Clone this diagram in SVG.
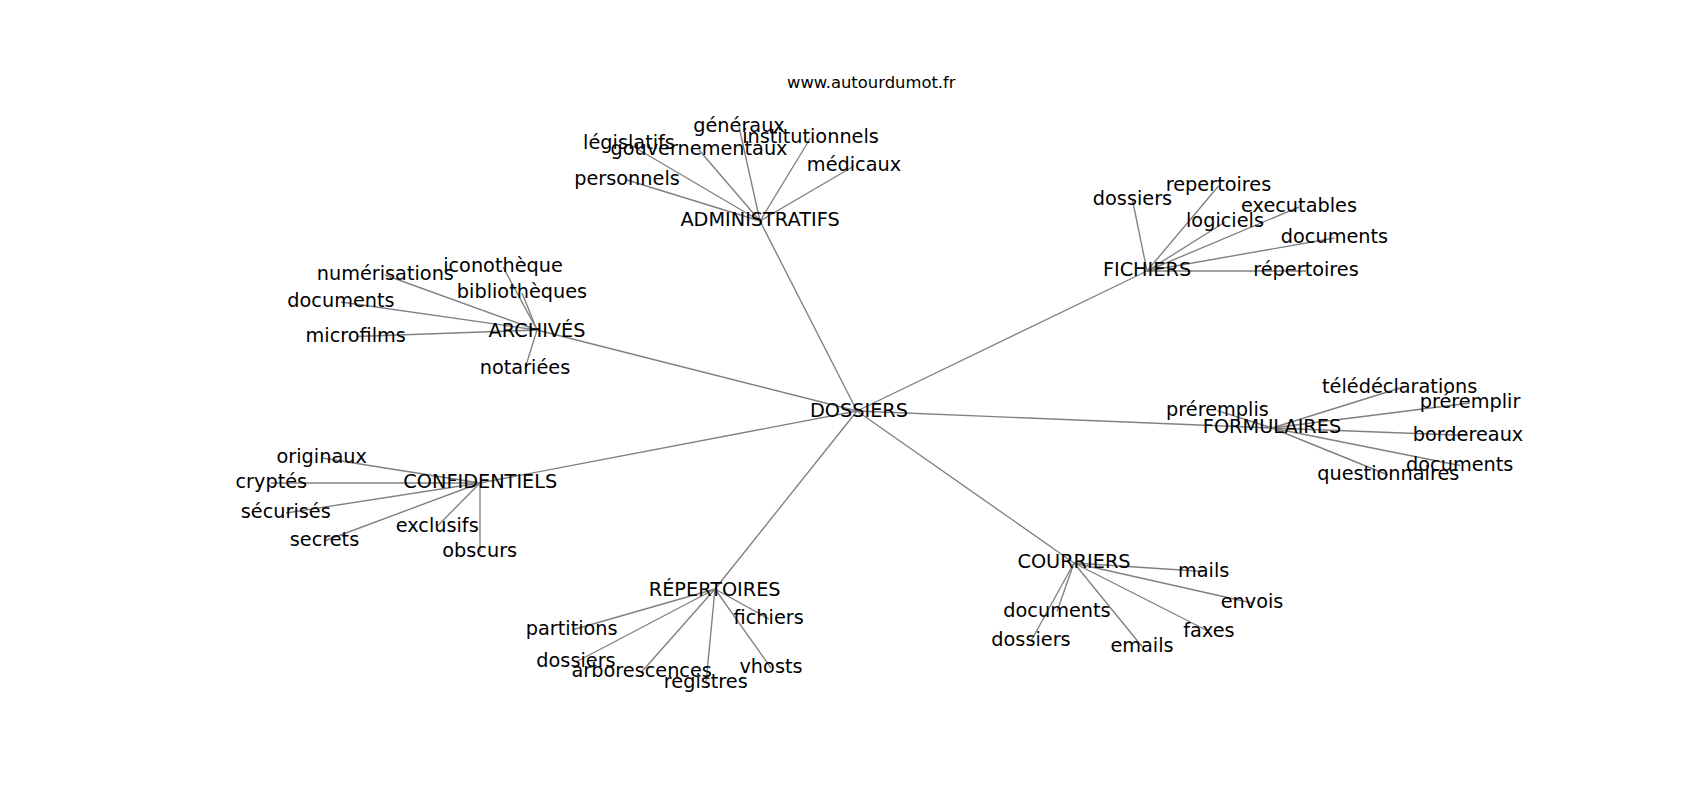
<svg xmlns="http://www.w3.org/2000/svg" width="1700" height="800" viewBox="0 0 1700 800">
<style>
text{font-family:"DejaVu Sans",sans-serif;font-size:19.3px;fill:#000;text-anchor:middle}
.t{font-size:16.4px}
#edges line{stroke:#808080;stroke-width:1.36}
</style>
<rect width="1700" height="800" fill="#fff"/>
<g id="edges">
<line x1="857" y1="411" x2="760" y2="221"/>
<line x1="857" y1="411" x2="1147" y2="271"/>
<line x1="857" y1="411" x2="537" y2="330"/>
<line x1="857" y1="411" x2="1272" y2="428"/>
<line x1="857" y1="411" x2="480" y2="483"/>
<line x1="857" y1="411" x2="715" y2="589"/>
<line x1="857" y1="411" x2="1074" y2="563"/>
<line x1="760" y1="221" x2="739" y2="127"/>
<line x1="760" y1="221" x2="629" y2="144"/>
<line x1="760" y1="221" x2="699" y2="150"/>
<line x1="760" y1="221" x2="810.5" y2="138"/>
<line x1="760" y1="221" x2="854" y2="166"/>
<line x1="760" y1="221" x2="627" y2="180"/>
<line x1="1147" y1="271" x2="1132.5" y2="200"/>
<line x1="1147" y1="271" x2="1218.5" y2="186"/>
<line x1="1147" y1="271" x2="1299" y2="207"/>
<line x1="1147" y1="271" x2="1225" y2="222"/>
<line x1="1147" y1="271" x2="1334.5" y2="238"/>
<line x1="1147" y1="271" x2="1306" y2="271"/>
<line x1="537" y1="330" x2="385" y2="275"/>
<line x1="537" y1="330" x2="503" y2="267"/>
<line x1="537" y1="330" x2="522" y2="293"/>
<line x1="537" y1="330" x2="341" y2="302"/>
<line x1="537" y1="330" x2="356" y2="336.5"/>
<line x1="537" y1="330" x2="525" y2="368.6"/>
<line x1="1272" y1="428" x2="1217.5" y2="410.6"/>
<line x1="1272" y1="428" x2="1400" y2="388"/>
<line x1="1272" y1="428" x2="1470" y2="403"/>
<line x1="1272" y1="428" x2="1468" y2="435.5"/>
<line x1="1272" y1="428" x2="1460" y2="465.5"/>
<line x1="1272" y1="428" x2="1388" y2="475"/>
<line x1="480" y1="483" x2="322" y2="458"/>
<line x1="480" y1="483" x2="271" y2="483"/>
<line x1="480" y1="483" x2="286" y2="513"/>
<line x1="480" y1="483" x2="324.5" y2="541"/>
<line x1="480" y1="483" x2="437" y2="526.5"/>
<line x1="480" y1="483" x2="480" y2="552"/>
<line x1="715" y1="589" x2="572" y2="630"/>
<line x1="715" y1="589" x2="769" y2="619"/>
<line x1="715" y1="589" x2="576" y2="662"/>
<line x1="715" y1="589" x2="642" y2="671.5"/>
<line x1="715" y1="589" x2="706" y2="683"/>
<line x1="715" y1="589" x2="771" y2="668"/>
<line x1="1074" y1="563" x2="1204" y2="571.5"/>
<line x1="1074" y1="563" x2="1252" y2="603"/>
<line x1="1074" y1="563" x2="1209" y2="631.5"/>
<line x1="1074" y1="563" x2="1142" y2="646.5"/>
<line x1="1074" y1="563" x2="1057" y2="611.5"/>
<line x1="1074" y1="563" x2="1031" y2="641"/>
</g>
<text class="t" x="871.3" y="88">www.autourdumot.fr</text>
<g id="n-dossiers"><text x="859" y="416.7">DOSSIERS</text></g>
<g id="n-administratifs"><text x="760" y="226">ADMINISTRATIFS</text></g>
<g id="n-generaux"><text x="739" y="131.7">généraux</text></g>
<g id="n-legislatifs"><text x="629" y="149.3">législatifs</text></g>
<g id="n-gouvernementaux"><text x="699" y="155">gouvernementaux</text></g>
<g id="n-institutionnels"><text x="810.5" y="142.7">institutionnels</text></g>
<g id="n-medicaux"><text x="854" y="170.7">médicaux</text></g>
<g id="n-personnels"><text x="627" y="185">personnels</text></g>
<g id="n-fichiers"><text x="1147" y="276">FICHIERS</text></g>
<g id="n-f-dossiers"><text x="1132.5" y="205">dossiers</text></g>
<g id="n-f-repertoires"><text x="1218.5" y="190.7">repertoires</text></g>
<g id="n-executables"><text x="1299" y="211.7">executables</text></g>
<g id="n-logiciels"><text x="1225" y="227.3">logiciels</text></g>
<g id="n-f-documents"><text x="1334.5" y="242.7">documents</text></g>
<g id="n-f-repertoires2"><text x="1306" y="276">répertoires</text></g>
<g id="n-archives"><text x="537" y="337.3">ARCHIVÉS</text></g>
<g id="n-numerisations"><text x="385.3" y="280">numérisations</text></g>
<g id="n-iconotheque"><text x="503" y="271.7">iconothèque</text></g>
<g id="n-bibliotheques"><text x="522" y="298.3">bibliothèques</text></g>
<g id="n-a-documents"><text x="341" y="307.3">documents</text></g>
<g id="n-microfilms"><text x="355.7" y="341.7">microfilms</text></g>
<g id="n-notariees"><text x="525" y="374">notariées</text></g>
<g id="n-formulaires"><text x="1272" y="433.3">FORMULAIRES</text></g>
<g id="n-preremplis"><text x="1217.5" y="416">préremplis</text></g>
<g id="n-teledeclarations"><text x="1399.7" y="393.3">télédéclarations</text></g>
<g id="n-preremplir"><text x="1470" y="408.3">préremplir</text></g>
<g id="n-bordereaux"><text x="1468" y="440.7">bordereaux</text></g>
<g id="n-fo-documents"><text x="1459.7" y="470.7">documents</text></g>
<g id="n-questionnaires"><text x="1388.3" y="480">questionnaires</text></g>
<g id="n-confidentiels"><text x="480.3" y="488.3">CONFIDENTIELS</text></g>
<g id="n-originaux"><text x="321.7" y="463.3">originaux</text></g>
<g id="n-cryptes"><text x="271.3" y="488.3">cryptés</text></g>
<g id="n-securises"><text x="285.8" y="518.3">sécurisés</text></g>
<g id="n-secrets"><text x="324.5" y="546">secrets</text></g>
<g id="n-exclusifs"><text x="437.2" y="531.7">exclusifs</text></g>
<g id="n-obscurs"><text x="479.7" y="557.3">obscurs</text></g>
<g id="n-repertoires"><text x="714.7" y="596">RÉPERTOIRES</text></g>
<g id="n-partitions"><text x="571.7" y="635">partitions</text></g>
<g id="n-r-fichiers"><text x="768.7" y="624">fichiers</text></g>
<g id="n-r-dossiers"><text x="576" y="667.3">dossiers</text></g>
<g id="n-arborescences"><text x="641.7" y="676.7">arborescences</text></g>
<g id="n-registres"><text x="705.8" y="688.3">registres</text></g>
<g id="n-vhosts"><text x="771" y="673.3">vhosts</text></g>
<g id="n-courriers"><text x="1074" y="568.3">COURRIERS</text></g>
<g id="n-mails"><text x="1203.7" y="576.7">mails</text></g>
<g id="n-envois"><text x="1252" y="608.3">envois</text></g>
<g id="n-faxes"><text x="1209" y="636.7">faxes</text></g>
<g id="n-emails"><text x="1142" y="651.7">emails</text></g>
<g id="n-c-documents"><text x="1057" y="616.7">documents</text></g>
<g id="n-c-dossiers"><text x="1031" y="646">dossiers</text></g>
</svg>
